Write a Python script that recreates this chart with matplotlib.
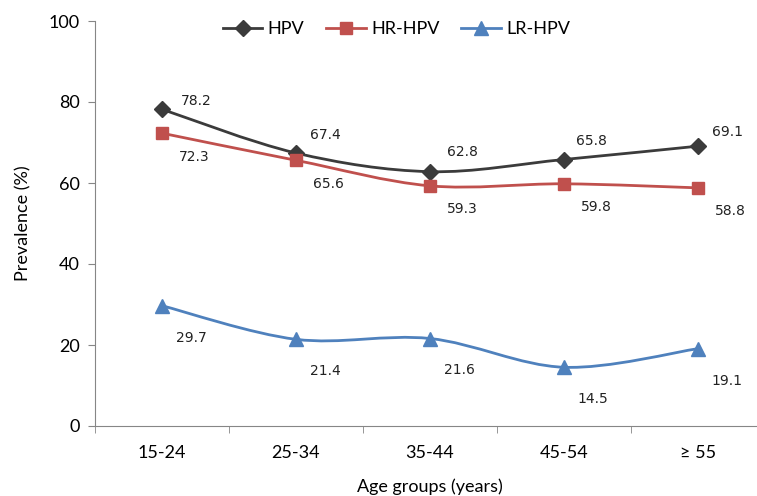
import matplotlib.pyplot as plt
from matplotlib.path import Path
from matplotlib.patches import PathPatch
import numpy as np

groups = ['15-24', '25-34', '35-44', '45-54', '≥ 55']
hpv = [78.2, 67.4, 62.8, 65.8, 69.1]
hr_hpv = [72.3, 65.6, 59.3, 59.8, 58.8]
lr_hpv = [29.7, 21.4, 21.6, 14.5, 19.1]

plt.rcParams['font.family'] = ['Lato', 'DejaVu Sans']

fig = plt.figure(figsize=(7.57, 4.96), dpi=100)
ax = fig.add_axes([95/757, 70/496, 670/757, 405/496])


def smooth_path(xs, ys, t=1/6):
    # Excel-like smoothed line: cubic bezier through every point
    verts = [(xs[0], ys[0])]
    codes = [Path.MOVETO]
    n = len(xs)
    for i in range(n - 1):
        x0, y0 = (xs[i-1], ys[i-1]) if i > 0 else (xs[i], ys[i])
        x3, y3 = (xs[i+2], ys[i+2]) if i + 2 < n else (xs[i+1], ys[i+1])
        c1 = (xs[i] + (xs[i+1] - x0) * t, ys[i] + (ys[i+1] - y0) * t)
        c2 = (xs[i+1] - (x3 - xs[i]) * t, ys[i+1] - (y3 - ys[i]) * t)
        verts += [c1, c2, (xs[i+1], ys[i+1])]
        codes += [Path.CURVE4] * 3
    return Path(verts, codes)


x = np.arange(len(groups))
# label offsets in points, one per point
hpv_off = [(25, 6), (21, 13), (23, 14), (20, 13), (21, 10)]
hr_off = [(23, -17)] * 5
lr_off = [(21, -23)] * 5
series = [
    ('HPV', hpv, '#3b3b3b', 'D', 8, hpv_off),
    ('HR-HPV', hr_hpv, '#c0504d', 's', 9, hr_off),
    ('LR-HPV', lr_hpv, '#4f81bd', '^', 10, lr_off),
]
for name, vals, col, mk, ms, offs in series:
    ax.add_patch(PathPatch(smooth_path(x, vals), fill=False, edgecolor=col, lw=2, zorder=2))
    ax.plot(x, vals, linestyle='none', marker=mk, markersize=ms, color=col,
            markeredgecolor=col, zorder=3)
    for xi, v, off in zip(x, vals, offs):
        ax.annotate(f'{v}', (xi, v), xytext=off, textcoords='offset points',
                    ha='center', va='center', fontsize=10, family='DejaVu Sans',
                    color='#222222')

handles = [plt.Line2D([], [], color=c, lw=2, marker=m, markersize=s, markeredgecolor=c)
           for _, _, c, m, s, _ in series]
ax.legend(handles, [s[0] for s in series], loc='upper center', bbox_to_anchor=(0.45, 1.04),
          ncol=3, frameon=False, fontsize=13, handlelength=2.2, columnspacing=1.2,
          handletextpad=0.3)

ax.set_xlim(-0.5, len(groups) - 0.5)
ax.set_ylim(0, 100)
ax.set_yticks([0, 20, 40, 60, 80, 100])
ax.set_xticks(x)
ax.set_xticklabels(groups)
ax.set_xticks(np.arange(len(groups) + 1) - 0.5, minor=True)
ax.tick_params(axis='x', which='major', length=0, pad=14, labelsize=13)
ax.tick_params(axis='x', which='minor', length=5, color='#868686')
ax.tick_params(axis='y', length=5, color='#868686', labelsize=13, pad=6)

for s in ['top', 'right']:
    ax.spines[s].set_visible(False)
for s in ['left', 'bottom']:
    ax.spines[s].set_color('#868686')

ax.set_ylabel('Prevalence (%)', fontsize=13, labelpad=12)
ax.set_xlabel('Age groups (years)', fontsize=13, labelpad=12)

fig.savefig('out.png', dpi=100)
